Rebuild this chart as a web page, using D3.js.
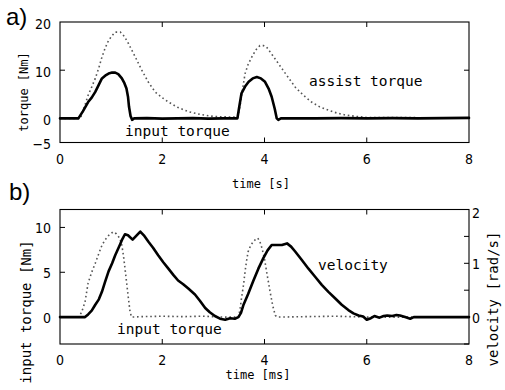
<!DOCTYPE html>
<html><head><meta charset="utf-8">
<script src="https://cdn.jsdelivr.net/npm/d3@7"></script>
<style>
body{margin:0;background:#fff;}
svg{display:block;}
.tick-label{font-family:"Liberation Sans Narrow","DejaVu Sans Condensed",sans-serif;font-size:14px;fill:#000;}
.mono{font-family:"DejaVu Sans Mono",monospace;fill:#000;}
</style>
</head><body>
<svg id="c" width="505" height="390"></svg>
<script>
// ---------- data ----------
const xTicks = [0, 2, 4, 6, 8];
const yTicksA = [-5, 0, 10, 20];
const yTicksBLeft = [0, 5, 10];
const yTicksBRightLabels = [0, 1, 2];
const yTicksBRight = [-0.5, 0, 0.5, 1, 1.5, 2];

// panel a: input torque (solid) [t, Nm]
const inputTorqueA = [[0,0],[0.36,0],[0.45,1.5],[0.55,3.4],[0.62,4.3],[0.69,5.5],[0.76,7],[0.82,8.3],[0.9,9.0],[0.95,9.3],[1.02,9.5],[1.08,9.5],[1.14,9.2],[1.21,8.3],[1.26,7.3],[1.30,6.2],[1.33,4.5],[1.35,2.4],[1.38,0.5],[1.41,-0.3],[1.45,0],[1.7,0.05],[2.0,-0.05],[2.3,0],[2.6,0.05],[2.9,-0.05],[3.2,0],[3.47,0],[3.5,2],[3.55,5.2],[3.62,6.6],[3.69,7.6],[3.77,8.3],[3.85,8.6],[3.93,8.3],[4.01,7.6],[4.08,6.2],[4.14,4.5],[4.2,2],[4.24,0],[4.27,-0.3],[4.32,0],[5,0],[5.5,0.05],[6,0],[6.5,0.05],[7,0],[7.5,0.05],[8,0.1]];
// panel a: assist torque (dotted)
const assistTorqueA = [[0,0],[0.4,0],[0.48,2.5],[0.55,4.8],[0.62,6.5],[0.69,8.3],[0.76,10.5],[0.82,12.7],[0.88,14.5],[0.95,16.2],[1.02,17.2],[1.08,17.9],[1.18,17.9],[1.26,17],[1.34,15.5],[1.47,12.8],[1.6,10],[1.73,7.5],[1.86,5.5],[2.0,4.3],[2.12,3.4],[2.3,2.3],[2.51,1.4],[2.75,0.8],[3.0,0.4],[3.3,0.3],[3.48,0.3],[3.52,2.5],[3.57,6],[3.62,9.3],[3.68,11.2],[3.75,12.7],[3.83,14.2],[3.91,15.1],[3.98,15.1],[4.04,14.8],[4.15,13.2],[4.27,11.4],[4.43,9],[4.6,6.5],[4.76,4.8],[4.92,3.4],[5.08,2.4],[5.25,1.7],[5.42,1.1],[5.58,0.7],[5.8,0.4],[6.0,0.2],[8,0.1]];
// panel b: input torque (dotted) [t, Nm]
const inputTorqueB = [[0,0],[0.36,0],[0.42,0.5],[0.49,1.7],[0.55,3.8],[0.62,5],[0.69,6],[0.76,7.1],[0.82,8],[0.88,8.6],[0.95,9.1],[1.04,9.5],[1.1,9.3],[1.17,8.8],[1.21,8],[1.24,6.9],[1.27,5.5],[1.30,4],[1.34,2],[1.37,0.6],[1.4,0],[1.6,0.05],[2.0,0.1],[2.4,0.05],[2.8,0.1],[3.2,0],[3.49,0],[3.52,0.8],[3.55,2.1],[3.59,3.6],[3.62,5.1],[3.65,6.3],[3.68,7.3],[3.73,8],[3.78,8.4],[3.83,8.7],[3.87,8.8],[3.91,8.4],[3.95,7.7],[4.0,6.5],[4.04,5.1],[4.08,3.8],[4.11,2.8],[4.16,1.3],[4.21,0.2],[4.25,0],[4.8,0.05],[5.4,0.1],[6,0],[7,0],[8,0]];
// panel b: velocity (solid) [t, rad/s]
const velocityB = [[0,0],[0.49,0],[0.55,0.05],[0.62,0.12],[0.69,0.23],[0.76,0.33],[0.82,0.47],[0.88,0.65],[0.95,0.85],[1.02,1.0],[1.08,1.15],[1.17,1.34],[1.22,1.45],[1.27,1.54],[1.33,1.52],[1.42,1.44],[1.5,1.52],[1.57,1.59],[1.64,1.52],[1.73,1.40],[1.82,1.29],[1.92,1.15],[2.02,1.02],[2.12,0.90],[2.22,0.78],[2.31,0.68],[2.41,0.61],[2.51,0.53],[2.64,0.42],[2.74,0.30],[2.84,0.17],[2.93,0.09],[3.03,0.02],[3.13,-0.03],[3.23,-0.05],[3.33,-0.02],[3.42,-0.03],[3.49,0],[3.54,0.08],[3.59,0.23],[3.68,0.43],[3.78,0.67],[3.88,0.9],[3.98,1.10],[4.06,1.24],[4.14,1.34],[4.24,1.34],[4.34,1.34],[4.44,1.37],[4.52,1.31],[4.6,1.22],[4.73,1.06],[4.86,0.90],[4.99,0.75],[5.12,0.60],[5.25,0.47],[5.38,0.35],[5.51,0.23],[5.64,0.13],[5.74,0.07],[5.84,0.03],[5.93,0.01],[6.0,-0.05],[6.08,-0.02],[6.15,0.02],[6.25,-0.01],[6.33,0.02],[6.4,0.03],[6.5,0.02],[6.58,0.04],[6.65,0.03],[6.75,0.0],[6.85,-0.03],[6.92,0.0],[7.2,0.0],[8,0.0]];

// ---------- layout ----------
const svg = d3.select("#c");
const L = 60, R = 469;
const A = {top: 22, bottom: 142.5};
const B = {top: 209.5, bottom: 344};
const x = d3.scaleLinear().domain([0, 8]).range([L, R]);
const yA = d3.scaleLinear().domain([-5, 20]).range([A.bottom, A.top]);
const yBL = d3.scaleLinear().domain([-3, 12]).range([B.bottom, B.top]);
const yBR = d3.scaleLinear().domain([-0.5, 2]).range([B.bottom, B.top]);
const fmt = d => d < 0 ? "\u2212" + Math.abs(d) : String(d);
const TL = 5;

function lineOf(ys) {
  return d3.line().x(d => x(d[0])).y(d => ys(d[1]));
}
function drawSolid(data, ys) {
  svg.append("path").datum(data).attr("d", lineOf(ys))
    .attr("fill", "none").attr("stroke", "#000").attr("stroke-width", 2.6)
    .attr("stroke-linejoin", "round").attr("stroke-linecap", "round");
}
function drawDotted(data, ys) {
  svg.append("path").datum(data).attr("d", lineOf(ys))
    .attr("fill", "none").attr("stroke", "#555").attr("stroke-width", 1.6)
    .attr("stroke-dasharray", "1.6,2.8");
}
function frame(p) {
  svg.append("rect").attr("x", L).attr("y", p.top).attr("width", R - L).attr("height", p.bottom - p.top)
    .attr("fill", "none").attr("stroke", "#000").attr("stroke-width", 1.1);
  xTicks.filter(t => t > 0 && t < 8).forEach(t => {
    svg.append("line").attr("x1", x(t)).attr("x2", x(t)).attr("y1", p.top).attr("y2", p.top + TL).attr("stroke", "#000");
    svg.append("line").attr("x1", x(t)).attr("x2", x(t)).attr("y1", p.bottom).attr("y2", p.bottom - TL).attr("stroke", "#000");
  });
}
function xLabels(baseline) {
  xTicks.forEach(t => {
    svg.append("text").attr("class", "tick-label").attr("x", x(t)).attr("y", baseline)
      .attr("text-anchor", "middle").text(t);
  });
}

// ---------- panel a ----------
frame(A);
yTicksA.filter(t => t > -5 && t < 20).forEach(t => {
  svg.append("line").attr("x1", L).attr("x2", L + TL).attr("y1", yA(t)).attr("y2", yA(t)).attr("stroke", "#000");
  svg.append("line").attr("x1", R).attr("x2", R - TL).attr("y1", yA(t)).attr("y2", yA(t)).attr("stroke", "#000");
});
yTicksA.forEach(t => {
  svg.append("text").attr("class", "tick-label").attr("x", 51).attr("y", yA(t) + 6.5)
    .attr("text-anchor", "end").text(fmt(t));
});
xLabels(164);
drawDotted(assistTorqueA, yA);
drawSolid(inputTorqueA, yA);
svg.append("text").attr("class", "mono").attr("font-size", 14.5).attr("x", 125).attr("y", 136).text("input torque");
svg.append("text").attr("class", "mono").attr("font-size", 14.5).attr("x", 309).attr("y", 86).text("assist torque");
svg.append("text").attr("class", "mono").attr("font-size", 12).attr("x", 261).attr("y", 188)
  .attr("text-anchor", "middle").text("time [s]");
svg.append("text").attr("class", "mono").attr("font-size", 12)
  .attr("transform", "translate(28,92) rotate(-90)").attr("text-anchor", "middle").text("torque [Nm]");
svg.append("text").attr("font-family", "Liberation Sans, Arial, sans-serif").attr("font-size", 24)
  .attr("x", 6).attr("y", 25).text("a)");

// ---------- panel b ----------
frame(B);
yTicksBLeft.forEach(t => {
  svg.append("line").attr("x1", L).attr("x2", L + TL).attr("y1", yBL(t)).attr("y2", yBL(t)).attr("stroke", "#000");
  svg.append("text").attr("class", "tick-label").attr("x", 51).attr("y", yBL(t) + 6)
    .attr("text-anchor", "end").text(fmt(t));
});
yTicksBRight.forEach(t => {
  svg.append("line").attr("x1", R).attr("x2", R - TL).attr("y1", yBR(t)).attr("y2", yBR(t)).attr("stroke", "#000");
});
yTicksBRightLabels.forEach(t => {
  svg.append("text").attr("class", "tick-label").attr("x", 472).attr("y", yBR(t) + (t === 2 ? 8 : 6))
    .attr("text-anchor", "start").text(fmt(t));
});
xLabels(365);
drawDotted(inputTorqueB, yBL);
drawSolid(velocityB, yBR);
svg.append("text").attr("class", "mono").attr("font-size", 14.5).attr("x", 318).attr("y", 270).text("velocity");
svg.append("text").attr("class", "mono").attr("font-size", 14.5).attr("x", 117).attr("y", 334).text("input torque");
svg.append("text").attr("class", "mono").attr("font-size", 12).attr("x", 258).attr("y", 379)
  .attr("text-anchor", "middle").text("time [ms]");
svg.append("text").attr("class", "mono").attr("font-size", 14)
  .attr("transform", "translate(31,312) rotate(-90)").attr("text-anchor", "middle").text("input torque [Nm]");
svg.append("text").attr("class", "mono").attr("font-size", 14)
  .attr("transform", "translate(498,299) rotate(-90)").attr("text-anchor", "middle").text("velocity [rad/s]");
svg.append("text").attr("font-family", "Liberation Sans, Arial, sans-serif").attr("font-size", 24)
  .attr("x", 9).attr("y", 200).text("b)");
</script>
</body></html>
